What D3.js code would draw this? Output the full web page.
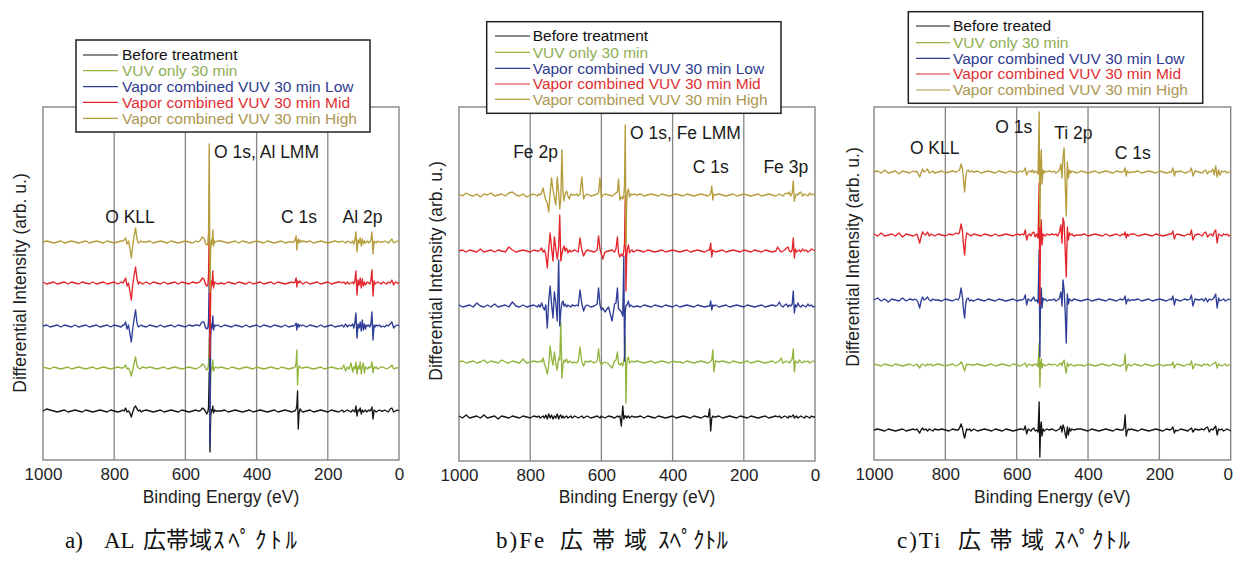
<!DOCTYPE html>
<html><head><meta charset="utf-8">
<script src="https://cdn.jsdelivr.net/npm/d3@7"></script>
<style>
body{margin:0;background:#fff;}
svg{display:block;font-family:"Liberation Sans",Arial,sans-serif;}
</style></head><body>
<svg id="chart" width="1234" height="565"></svg>
<script>
// ---------------- DATA ----------------
const xTicks = [1000, 800, 600, 400, 200, 0];
const gridEnergies = [800, 600, 400, 200];
const seriesKeys = ["before", "vuv", "low", "mid", "high"];
const legendLabelsA = ["Before treatment", "VUV only 30 min", "Vapor combined VUV 30 min Low", "Vapor combined VUV 30 min Mid", "Vapor combined VUV 30 min High"];
const legendLabelsB = ["Before treatment", "VUV only 30 min", "Vapor combined VUV 30 min Low", "Vapor combined VUV 30 min Mid", "Vapor combined VUV 30 min High"];
const legendLabelsC = ["Before treated", "VUV only 30 min", "Vapor combined VUV 30 min Low", "Vapor combined VUV 30 min Mid", "Vapor combined VUV 30 min High"];
const peakLabelsA = ["O KLL", "O 1s, Al LMM", "C 1s", "Al 2p"];
const peakLabelsB = ["Fe 2p", "O 1s, Fe LMM", "C 1s", "Fe 3p"];
const peakLabelsC = ["O KLL", "O 1s", "Ti 2p", "C 1s"];
const captionPartsA = ["a)", "AL", "広帯域", "ｽﾍﾟｸﾄﾙ"];
const captionPartsB = ["b)Fe", "広帯域", "ｽﾍﾟｸﾄﾙ"];
const captionPartsC = ["c)Ti", "広帯域", "ｽﾍﾟｸﾄﾙ"];
const xTitle = "Binding Energy (eV)";
const yTitle = "Differential Intensity (arb. u.)";

// ---- Panel a (Al) : binding energies (eV) and differential intensity per series
const energyA = [
 1000,990,980,970,960,950,940,930,920,910,900,890,880,870,860,850,840,830,820,810,800,790,780,
 776,772,768,764,760,756,752,748,744,740,736,732,728,724,720,
 710,700,690,680,670,660,650,640,630,620,610,600,590,580,570,
 565,560,556,552,548,544,540,537,535,533,531,529,527,525,523,521,518,515,510,
 500,490,480,470,460,450,440,430,420,410,400,390,380,370,360,350,340,330,320,310,300,
 296,292,289,287,285,283,281,278,274,270,
 260,250,240,230,220,210,200,190,180,170,
 165,160,155,150,145,140,135,130,127,124,121,118,115,112,109,106,103,100,97,94,91,88,85,82,79,76,73,70,67,64,60,55,50,
 45,40,35,30,25,20,15,10,5,0];
const beforeA = [
 0,2,1,0,-1,0,1,-1,0,1,0,-1,1,0,-1,0,1,0,-1,1,0,-1,0,
 1,0,3,-1,0,-2,-6,-1,3,5,2,0,1,-1,0,
 1,0,-1,0,1,-1,0,1,0,-1,1,0,-1,0,1,
 0,0,1,3,2,0,-3,-1,4,39,-41,-6,1,0,5,-2,1,0,0,
 0,1,-1,0,1,0,-1,0,1,-1,0,1,0,-1,0,1,-1,0,1,0,-1,
 0,0,2,5,20,-18,-3,2,0,-1,
 0,1,-1,0,1,0,-1,1,0,-1,
 0,1,-1,0,1,0,-1,1,0,-1,5,-5,1,0,3,-3,1,-1,0,1,-1,0,1,0,1,4,-8,1,0,-1,0,1,0,
 0,1,0,-1,2,3,-1,0,1,0];
const vuvA = [
 1,0,-1,1,0,-1,0,1,-1,0,1,0,-1,0,1,-1,0,1,0,-1,0,1,0,
 0,1,3,-1,0,-3,-8,-2,5,11,2,0,-1,0,1,
 0,1,0,-1,0,1,-1,0,1,0,-1,0,1,0,-1,
 0,1,2,4,3,0,-2,-1,5,30,-55,-8,1,-1,8,-3,0,1,0,
 1,0,-1,1,0,-1,0,1,0,-1,1,0,-1,0,1,0,-1,1,0,-1,0,
 0,1,5,18,-17,-3,2,1,0,0,
 1,0,-1,0,1,-1,0,1,0,-1,
 0,-1,3,-3,1,-1,5,-4,1,-1,6,-6,2,-1,6,-6,1,5,-5,1,0,-1,1,0,1,6,-5,1,0,1,-1,0,1,
 1,0,-1,0,1,3,-1,0,0,1];
const lowA = [
 0,1,-1,0,1,-1,1,0,-1,1,-1,0,1,-1,0,1,-1,0,1,-1,1,0,-1,
 1,1,4,-3,1,-7,-16,-3,7,16,3,-1,0,1,0,
 -1,1,0,-1,1,-1,0,1,-1,1,0,-1,1,0,1,
 1,0,3,4,4,-1,-3,-2,6,45,-120,-12,2,-2,10,-4,1,0,1,
 -1,1,0,-1,1,0,-1,1,-1,0,1,-1,1,0,-1,1,0,-1,1,-1,0,
 0,1,3,-4,1,2,-1,1,0,1,
 -1,1,0,-1,1,-1,0,1,-1,0,
 0,1,-1,2,-1,1,0,2,-2,3,13,-12,2,-2,4,-5,6,-4,2,-3,1,0,1,-1,2,14,-14,1,-1,1,0,1,-1,
 0,-1,1,0,2,4,-2,0,1,0];
const midA = [
 1,-1,0,1,-1,0,1,-1,1,0,-1,1,0,-1,1,-1,0,1,-1,0,1,-1,1,
 0,2,5,-3,0,-8,-17,-2,8,16,4,-1,1,0,-1,
 1,-1,1,0,-1,1,-1,0,1,-1,1,0,-1,1,0,
 0,1,3,5,4,-1,-3,-2,8,60,-75,-10,2,-2,12,-5,1,0,-1,
 0,-1,1,0,-1,1,0,-1,1,-1,0,1,-1,0,1,-1,1,0,-1,0,1,
 0,1,5,-4,2,1,0,2,0,-1,
 1,-1,0,1,-1,0,1,-1,0,1,
 1,0,1,-1,1,-1,0,1,-1,2,12,-12,3,-2,5,-5,4,-3,1,-2,0,1,0,-1,2,13,-13,2,-1,0,1,0,-1,
 1,0,-1,1,0,3,-2,1,0,0];
const highA = [
 0,1,0,-1,0,1,-1,0,1,0,-1,0,1,-1,0,1,0,-1,1,0,-1,0,1,
 1,2,4,-2,1,-6,-16,-4,6,14,3,-1,0,1,0,
 0,1,-1,0,1,0,-1,1,0,-1,0,1,0,-1,1,
 0,1,3,5,4,-1,-3,-2,10,98,-50,-8,2,-2,12,-4,1,0,1,
 1,0,-1,0,1,-1,1,0,-1,0,1,0,-1,1,0,-1,0,1,-1,0,0,
 0,2,6,-8,1,3,-1,2,0,1,
 0,1,-1,0,1,0,-1,0,1,0,
 0,1,0,-1,1,0,-1,1,-2,2,10,-10,2,-1,4,-4,3,-2,1,-1,0,1,-1,0,2,10,-12,1,0,-1,1,0,0,
 0,1,0,-1,1,3,-1,0,1,0];

// ---- Panel b (Fe)
const energyB = [
 1000,990,980,970,960,950,940,930,920,910,900,890,880,870,860,850,840,830,820,810,800,790,780,
 776,772,768,764,760,756,752,748,744,740,736,732,728,724,720,717,714,711,708,705,702,698,694,690,686,682,
 675,670,665,660,655,650,645,640,630,620,612,608,604,600,596,590,580,570,563,559,555,552,548,544,540,537,535,533,531,529,527,524,521,518,514,510,
 500,490,480,470,460,450,440,430,420,410,400,390,380,370,360,350,340,330,320,310,300,
 296,293,290,287,284,280,
 270,260,250,240,230,220,210,200,190,180,170,160,150,140,130,120,110,
 105,100,95,90,85,80,76,72,68,64,61,58,55,52,48,44,40,35,30,25,20,15,10,5,0];
const beforeB = [
 1,-1,2,-1,0,1,-1,2,-1,0,1,-2,1,0,-1,1,0,-1,1,0,-1,1,0,
 1,-1,0,1,-1,2,-2,3,-1,2,-2,1,-1,3,-2,1,2,-1,1,-1,0,1,-1,0,1,-1,
 1,0,-1,0,1,-1,0,1,-1,0,1,0,-1,1,0,-1,1,0,-1,0,1,0,1,-9,11,-2,1,0,1,-1,0,1,-1,0,1,0,
 0,1,-1,1,0,-1,1,0,-1,0,1,-1,0,1,0,-1,1,0,-1,1,0,
 8,-14,-1,1,0,0,
 1,-1,0,1,0,-1,1,0,-1,1,0,-1,0,1,-1,0,1,
 0,1,-1,0,1,0,-1,1,0,1,2,-1,0,1,-1,0,1,0,-1,1,0,-1,1,0,0];
const vuvB = [
 0,1,-1,0,1,-1,0,2,-1,1,0,-1,2,0,-1,1,0,-1,3,-1,0,1,0,
 0,1,0,4,-2,-6,-12,-3,16,4,-3,10,-2,-8,4,2,40,-16,-3,2,0,3,-1,1,0,-1,
 0,-1,1,15,0,-4,1,0,1,-1,1,13,0,-3,-1,0,-2,-6,1,2,10,-2,-3,-1,-4,2,5,25,-41,-4,3,5,-1,0,1,0,
 1,0,-1,0,1,-1,0,1,0,-1,1,0,0,-1,1,0,-1,0,1,0,-1,
 0,1,2,12,-10,1,
 0,1,0,-1,1,0,-1,0,1,-1,0,1,0,-1,0,1,-1,
 0,1,4,-1,0,1,0,-1,1,3,13,-10,1,0,-1,2,0,-1,1,0,1,-1,0,1,0];
const lowB = [
 1,-1,0,1,-1,3,0,-1,1,-1,2,-1,0,1,-1,4,0,-1,1,-1,0,1,-1,
 1,-1,3,-1,-4,1,-22,5,20,2,-12,14,3,-15,46,-20,-5,3,5,0,2,-1,1,0,-1,1,
 0,1,0,16,2,-5,0,1,-1,0,2,18,1,-4,-2,-6,-1,-15,2,3,18,-3,-4,-6,-10,50,-55,-5,0,1,2,5,-1,1,0,-1,
 0,-1,1,0,-1,1,0,-1,1,0,-1,1,-1,0,1,0,-1,1,0,-1,0,
 0,5,-4,1,0,1,
 -1,0,1,-1,0,1,0,-1,1,0,-1,0,1,-1,0,1,0,
 1,4,0,-1,1,2,-1,1,0,2,15,-7,1,-1,3,0,-1,1,0,-1,2,0,1,-1,0];
const midB = [
 0,1,-1,1,0,-1,2,-1,0,1,-1,1,0,-1,4,1,-1,0,1,0,-1,1,0,
 0,1,3,-1,1,-4,-17,2,18,3,-10,14,2,-8,4,36,-10,-3,2,5,0,3,-2,1,-1,0,
 1,0,-1,13,1,-5,-1,1,0,-1,1,15,2,-3,-8,-1,0,1,-1,2,14,-2,-6,-3,-5,0,8,55,-40,-6,2,6,-2,0,1,-1,
 1,0,-1,1,0,-1,0,1,-1,0,1,0,-1,0,1,-1,0,1,0,-1,1,
 1,8,-6,1,0,-1,
 0,1,-1,0,1,0,-1,1,0,-1,1,0,-1,1,0,-1,0,
 4,1,-1,0,1,3,4,0,-1,1,13,-7,2,-1,0,1,-1,2,0,1,-1,0,2,1,0];
const highB = [
 1,-1,2,0,-1,1,-2,1,0,2,-1,0,1,-1,2,3,0,-1,1,-2,0,1,-1,
 1,0,2,7,0,-5,-8,-17,2,17,5,-3,-10,18,2,-14,-4,45,3,-6,1,4,-1,-4,1,0,
 0,1,-1,1,18,-4,0,1,-1,0,1,2,17,-3,0,1,0,-1,1,2,3,16,-5,-2,-4,0,10,70,-50,-8,3,6,-2,1,0,1,
 0,1,-1,0,1,0,-1,1,0,-1,0,1,0,-1,1,0,-1,0,1,0,-1,
 0,2,9,-5,1,0,
 1,0,-1,0,1,-1,0,1,0,-1,0,1,-1,0,1,0,-1,
 0,1,0,-1,1,2,1,3,-1,2,14,-6,-1,1,0,2,3,-1,1,0,-1,2,0,1,0];

// ---- Panel c (Ti)
const energyC = [
 1000,990,980,970,960,950,940,930,920,910,900,890,
 885,880,876,872,868,864,860,855,850,845,840,835,830,
 820,810,800,790,780,770,
 764,760,756,752,749,746,743,740,736,732,728,
 720,710,700,690,680,670,660,650,640,630,620,610,600,590,
 585,580,576,572,568,564,560,556,552,548,544,540,537,535,533,531,529,526,523,520,515,510,
 500,495,490,485,480,476,473,470,467,464,461,458,455,452,449,445,440,430,
 420,410,400,390,380,370,360,350,340,330,320,310,
 303,299,296,293,290,287,284,280,
 270,260,250,240,230,220,210,200,190,180,170,
 166,162,158,154,150,140,130,120,114,110,106,100,90,80,75,70,65,60,55,50,46,42,38,34,30,25,20,15,10,5,0];
const beforeC = [
 0,1,0,-1,1,0,-1,0,1,-1,0,1,
 0,1,-1,-3,0,2,0,1,-1,1,0,-1,1,
 0,1,0,-1,1,0,
 0,2,6,2,-4,-8,-3,1,0,1,-1,
 1,-1,0,1,0,-1,1,0,-1,1,0,-1,0,1,
 1,0,4,-4,1,0,-1,1,2,-1,0,-2,28,-27,3,8,-6,1,-1,0,1,0,
 1,0,-1,0,1,4,-2,5,2,-4,-8,3,-5,2,-1,1,0,1,
 1,0,-1,1,0,-1,0,1,0,-1,1,0,
 0,2,15,-6,-1,1,0,1,
 0,-1,1,0,-1,0,1,0,-1,1,0,
 1,3,-3,0,-1,1,0,-1,1,2,-2,1,0,1,0,2,3,-2,1,0,2,4,-5,1,0,1,-1,0,1,0,-1];
const vuvC = [
 1,0,-1,1,0,-1,1,0,-1,0,1,-1,
 0,1,-1,-3,0,1,0,-1,1,0,1,-1,0,
 1,0,-1,0,1,-1,
 0,1,3,1,-3,-6,-2,1,0,1,0,
 0,1,0,-1,0,1,-1,0,1,0,-1,1,0,-1,
 0,1,2,-2,0,1,0,-1,1,0,1,-2,22,-22,2,6,-3,1,0,-1,0,1,
 0,1,0,-1,1,2,-1,3,5,-3,-8,2,-1,0,1,0,-1,0,
 0,-1,1,0,-1,0,1,0,-1,1,0,-1,
 0,1,11,-6,-1,1,0,-1,
 1,0,-1,1,0,-1,0,1,-1,0,0,
 0,3,-3,0,1,0,-1,1,0,4,-4,1,0,-1,1,0,1,-1,0,1,2,3,-3,1,0,-1,0,1,-1,0,1];
const lowC = [
 0,2,-1,1,-2,1,0,-1,2,-1,1,0,
 1,0,-3,-8,-1,3,0,1,3,0,-1,1,0,
 0,-1,1,0,-1,1,
 0,3,12,3,-10,-18,-4,1,2,-1,0,
 -1,1,0,-1,1,0,-1,1,0,-1,0,1,-1,0,
 0,1,5,-5,1,0,-1,1,3,-1,0,-3,50,-57,3,12,-8,2,0,1,-1,0,
 0,1,-1,0,2,8,-6,20,10,-12,-43,6,-4,1,0,-1,1,0,
 -1,0,1,-1,0,1,0,-1,1,0,-1,1,
 0,1,4,-4,0,1,-1,0,
 0,1,-1,0,1,-1,0,1,0,-1,1,
 0,4,-5,1,0,-1,1,0,1,5,-6,1,0,1,-1,2,-2,1,0,1,3,6,-8,2,-1,0,1,-1,0,1,0];
const midC = [
 1,-1,2,-1,0,1,-1,2,-2,1,0,-1,
 0,1,-3,-8,-2,3,1,0,3,-1,1,0,-1,
 1,0,-1,1,0,2,
 1,3,11,4,-10,-20,-5,2,1,0,-1,
 1,0,-1,1,0,-1,1,-1,0,1,0,-1,1,0,
 1,0,5,-5,0,1,-1,2,3,-2,1,-3,52,-70,4,15,-10,1,0,-1,1,0,
 1,0,1,-1,3,10,-8,17,12,-15,-42,8,-5,2,0,1,-1,0,
 0,1,-1,0,1,0,-1,1,-1,0,1,-1,
 1,0,3,-3,1,-1,0,1,
 1,-1,0,1,0,-1,1,0,-1,0,1,
 1,4,-4,0,1,0,-1,1,0,5,-5,0,1,-1,2,3,-2,0,1,-1,3,5,-8,1,0,-1,1,0,1,-1,0];
const highC = [
 0,1,-1,2,-1,0,1,-2,1,0,-1,1,
 0,1,-2,-5,-1,3,0,1,3,-1,0,1,-1,
 0,1,-1,0,1,0,
 1,2,8,3,-8,-20,-6,1,2,0,1,
 0,1,-1,0,1,0,-1,1,0,-1,1,0,-1,1,
 0,1,4,-3,0,1,0,2,-1,1,0,-2,60,-55,6,22,-12,2,-1,1,0,1,
 0,1,-1,0,2,8,-6,15,24,-10,-44,10,-6,2,-1,1,0,-1,
 1,0,-1,0,1,-1,0,1,0,-1,1,0,
 0,1,4,-4,1,0,-1,0,
 0,1,-1,0,1,0,-1,1,0,-1,0,
 0,4,-4,1,0,1,-1,0,1,4,-4,1,0,-1,1,2,-2,1,0,3,-3,6,-5,2,-3,1,0,1,-1,0,1];

// ---------------- STYLE / LAYOUT ----------------
const lineColors = {before:"#151515", vuv:"#93b53f", low:"#2e3d96", mid:"#e4262c", high:"#b59c3c"};
const textColors = {before:"#111111", vuv:"#8fae55", low:"#2f3c8f", mid:"#df2f33", high:"#ad9650"};

const panels = [
 {energy:energyA, series:[beforeA,vuvA,lowA,midA,highA], legend:legendLabelsA, peaks:peakLabelsA,
  x0:43, x1:399, yb:460, yt:107, yspan:353, offsets:[49,92,134,177,218],
  box:[76,40,294,92], rows:[55,70.7,86.7,102.3,118.3], lx:[83,118], tx:122,
  ylab:[20,283], peakPos:[[130,216.7,"middle"],[214,151.7,"start"],[299,216.7,"middle"],[362.5,216.7,"middle"]],
  cap:captionPartsA, capX:[65,104,143,213], capLS:[0,0,0,0], capKana:84},
 {energy:energyB, series:[beforeB,vuvB,lowB,midB,highB], legend:legendLabelsB, peaks:peakLabelsB,
  x0:459, x1:815, yb:461, yt:107, yspan:354, offsets:[44,99,155,210,266],
  box:[486.7,21.7,294.3,91.6], rows:[36,52.3,68.3,84,99.3], lx:[495,530], tx:532.7,
  ylab:[436,271], peakPos:[[535.5,151.7,"middle"],[630,133.3,"start"],[710.8,166.7,"middle"],[785.8,166.7,"middle"]],
  cap:captionPartsB, capX:[496,560,658], capLS:[2,9,0], capKana:70},
 {energy:energyC, series:[beforeC,vuvC,lowC,midC,highC], legend:legendLabelsC, peaks:peakLabelsC,
  x0:874, x1:1230.7, yb:460, yt:107, yspan:353, offsets:[30,95,160,225,288],
  box:[908.3,11.7,294.4,91.6], rows:[26,42.7,58.3,74,90], lx:[916,950], tx:953,
  ylab:[853,257], peakPos:[[934.7,148.3,"middle"],[1013.7,126.7,"middle"],[1073.3,133.3,"middle"],[1132.8,153.3,"middle"]],
  cap:captionPartsC, capX:[897,958,1054], capLS:[2,8.5,0], capKana:76}
];

const svg = d3.select("#chart");
svg.append("rect").attr("width",1234).attr("height",565).attr("fill","#fff");

panels.forEach((p, pi) => {
  const x = d3.scaleLinear().domain([1000, 0]).range([p.x0, p.x1]);
  const y = d3.scaleLinear().domain([0, p.yspan]).range([p.yb, p.yt]);
  const g = svg.append("g");

  // frame + gridlines
  g.append("rect").attr("x",p.x0).attr("y",p.yt).attr("width",p.x1-p.x0).attr("height",p.yb-p.yt)
    .attr("fill","none").attr("stroke","#858585").attr("stroke-width",1.4);
  g.selectAll("line.grid").data(gridEnergies).join("line").attr("class","grid")
    .attr("x1",d=>x(d)).attr("x2",d=>x(d)).attr("y1",p.yt).attr("y2",p.yb)
    .attr("stroke","#858585").attr("stroke-width",1.3);

  // axis
  const ax = g.append("g").attr("transform",`translate(0,${p.yb})`)
    .call(d3.axisBottom(x).tickValues(xTicks).tickSize(0).tickPadding(8).tickFormat(d3.format("d")));
  ax.select(".domain").remove();
  ax.selectAll("text").attr("font-size",17).attr("fill","#1e1e1e")
    .attr("font-family","'Liberation Sans',Arial,sans-serif")
    .attr("dx", d => (d === 0 && p.x1 > 1225) ? -3 : 0);

  g.append("text").attr("x",(p.x0+p.x1)/2).attr("y",497).attr("dy","0.35em")
    .attr("text-anchor","middle").attr("font-size",17.5).attr("fill","#1e1e1e").text(xTitle);
  g.append("text").attr("transform",`translate(${p.ylab[0]},${p.ylab[1]}) rotate(-90)`)
    .attr("dy","0.35em").attr("text-anchor","middle").attr("font-size",17.5).attr("fill","#1e1e1e").text(yTitle);

  // traces
  const line = d3.line().x(d=>x(d[0])).y(d=>y(d[1]));
  seriesKeys.forEach((k, si) => {
    const vals = p.series[si];
    const n = Math.min(vals.length, p.energy.length);
    if (vals.length !== p.energy.length) console.warn("length mismatch", pi, k, vals.length, p.energy.length);
    const pts = d3.range(n).map(j => [p.energy[j], vals[j] + p.offsets[si]]);
    g.append("path").datum(pts).attr("d", line).attr("fill","none")
      .attr("stroke", lineColors[k]).attr("stroke-width",1.35).attr("stroke-linejoin","round");
  });

  // peak annotations
  p.peaks.forEach((t, i) => {
    const pos = p.peakPos[i];
    g.append("text").attr("x",pos[0]).attr("y",pos[1]).attr("dy","0.35em")
      .attr("text-anchor",pos[2]).attr("font-size",17.5).attr("fill","#1a1a1a").text(t);
  });

  // legend
  const lg = g.append("g");
  lg.append("rect").attr("x",p.box[0]).attr("y",p.box[1]).attr("width",p.box[2]).attr("height",p.box[3])
    .attr("fill","#fff").attr("stroke","#222").attr("stroke-width",1.5);
  seriesKeys.forEach((k, i) => {
    lg.append("line").attr("x1",p.lx[0]).attr("x2",p.lx[1]).attr("y1",p.rows[i]).attr("y2",p.rows[i])
      .attr("stroke",lineColors[k]).attr("stroke-width",1.2);
    lg.append("text").attr("x",p.tx).attr("y",p.rows[i]).attr("dy","0.35em")
      .attr("font-size",15.5).attr("fill",textColors[k]).text(p.legend[i]);
  });

  // caption (one text element, positioned parts)
  const cap = svg.append("text").attr("y",548)
    .attr("font-family","'Liberation Serif','Noto Sans CJK JP',serif").attr("font-size",23)
    .attr("fill","#111");
  p.cap.forEach((part, i) => {
    const ts = cap.append("tspan").attr("x", p.capX[i]).attr("letter-spacing", p.capLS[i]).text(part);
    if (i === p.cap.length - 1) ts.attr("textLength", p.capKana).attr("lengthAdjust","spacing");
  });
});
</script>
</body></html>
